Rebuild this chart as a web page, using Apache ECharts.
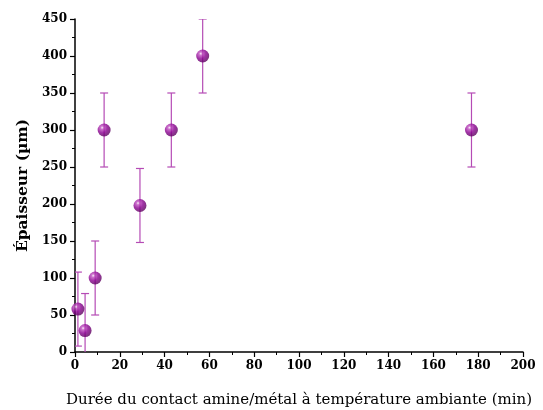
<!DOCTYPE html>
<html>
<head>
<meta charset="utf-8">
<script src="https://cdn.jsdelivr.net/npm/echarts@6/dist/echarts.min.js"></script>
<style>
  html, body { margin: 0; padding: 0; background: #fff; }
  #chart { width: 543px; height: 410px; }
</style>
</head>
<body>
<div id="chart"></div>
<script>
// durée (min), épaisseur (µm), erreur (µm)
var durees = [1.3, 4.5, 9, 13, 29, 43, 57, 177];
var epaisseurs = [58, 29, 100, 300, 198, 300, 400, 300];
var erreurs = [50, 50, 50, 50, 50, 50, 50, 50];

var points = durees.map(function (d, i) { return [d, epaisseurs[i]]; });
var barres = durees.map(function (d, i) {
  return [d, epaisseurs[i] - erreurs[i], epaisseurs[i] + erreurs[i]];
});

var serif = 'DejaVu Serif';
var myChart = echarts.init(document.getElementById('chart'));

var option = {
  animation: false,
  grid: { left: 75, right: 20, top: 19, bottom: 58, outerBoundsMode: 'none', containLabel: false },
  xAxis: {
    type: 'value',
    min: 0, max: 200, interval: 20,
    name: 'Durée du contact amine/métal à température ambiante (min)',
    nameLocation: 'middle',
    nameGap: 41,
    nameTextStyle: { fontFamily: serif, fontSize: 15, color: '#000' },
    axisLine: { lineStyle: { color: '#000', width: 1.5 } },
    axisTick: { inside: false, length: 5, lineStyle: { color: '#000', width: 1.2 } },
    minorTick: { show: true, splitNumber: 2, length: 3, lineStyle: { color: '#000' } },
    axisLabel: { fontFamily: serif, fontSize: 12, fontWeight: 'bold', color: '#000', margin: 8 },
    splitLine: { show: false }
  },
  yAxis: {
    type: 'value',
    min: 0, max: 450, interval: 50,
    name: 'Épaisseur (µm)',
    nameLocation: 'middle',
    nameGap: 44,
    nameRotate: 90,
    nameTextStyle: { fontFamily: serif, fontSize: 15.5, fontWeight: 'bold', color: '#000' },
    axisLine: { show: true, lineStyle: { color: '#000', width: 1.5 } },
    axisTick: { show: true, inside: false, length: 5, lineStyle: { color: '#000', width: 1.2 } },
    minorTick: { show: true, splitNumber: 2, length: 3, lineStyle: { color: '#000' } },
    axisLabel: { fontFamily: serif, fontSize: 12, fontWeight: 'bold', color: '#000', margin: 8 },
    splitLine: { show: false }
  },
  series: [
    {
      type: 'custom',
      clip: true,
      data: barres,
      renderItem: function (params, api) {
        var x = api.value(0);
        var bas = api.coord([x, api.value(1)]);
        var haut = api.coord([x, api.value(2)]);
        var c = 4;
        var style = { stroke: '#b54bb5', lineWidth: 1.2 };
        return {
          type: 'group',
          children: [
            { type: 'line', shape: { x1: haut[0], y1: haut[1], x2: bas[0], y2: bas[1] }, style: style },
            { type: 'line', shape: { x1: haut[0] - c, y1: haut[1], x2: haut[0] + c, y2: haut[1] }, style: style },
            { type: 'line', shape: { x1: bas[0] - c, y1: bas[1], x2: bas[0] + c, y2: bas[1] }, style: style }
          ]
        };
      },
      z: 1
    },
    {
      type: 'scatter',
      data: points,
      symbol: 'circle',
      symbolSize: 13,
      itemStyle: {
        color: {
          type: 'radial', x: 0.35, y: 0.32, r: 0.7,
          colorStops: [
            { offset: 0, color: '#f8eaf8' },
            { offset: 0.18, color: '#c050c0' },
            { offset: 0.55, color: '#8a0090' },
            { offset: 1, color: '#5c005e' }
          ]
        }
      },
      z: 3
    }
  ]
};

myChart.setOption(option);
</script>
</body>
</html>
